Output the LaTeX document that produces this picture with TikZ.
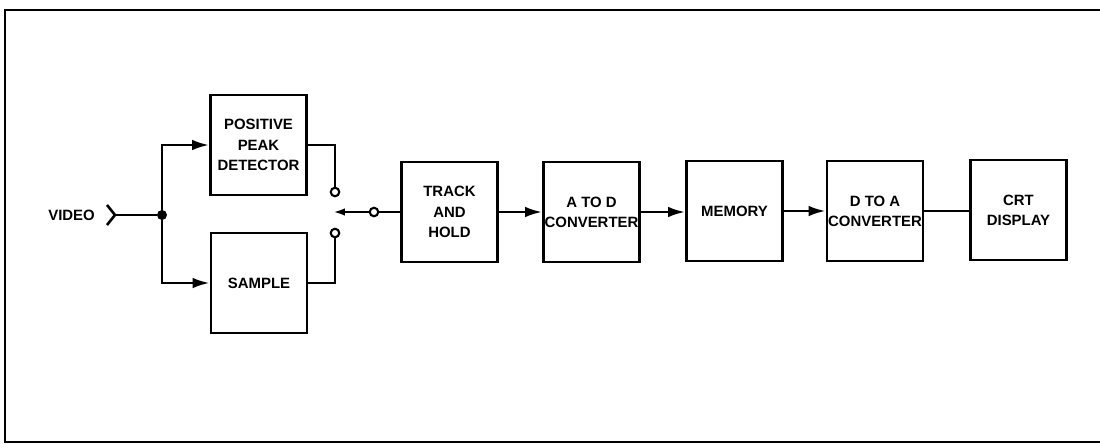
\documentclass[tikz,border=0pt]{standalone}
\usepackage{fontspec}
\setmainfont{Liberation Sans}
\usepackage{tikz}
\usetikzlibrary{arrows.meta,positioning,calc}

\begin{document}
\begin{tikzpicture}[
  x=0.02cm,y=-0.02cm,
  font=\fontsize{8.5}{11.5}\selectfont\bfseries,
  bx/.style={draw,line width=1.5pt,align=center,inner sep=0pt,
             minimum width=1.92cm,minimum height=2cm},
  ln/.style={line width=1.5pt},
  arr/.style={ln,-{Latex[length=3.4mm,width=2.1mm]}},
  sarr/.style={ln,-{Latex[length=2.4mm,width=1.5mm]}},
  ct/.style={circle,draw,line width=1.2pt,fill=white,inner sep=0pt,minimum size=0.17cm},
  dot/.style={circle,fill,inner sep=0pt,minimum size=0.2cm},
  ]
  \useasboundingbox (0,0) rectangle (1100,447);
  % frame
  \draw[ln] (1100,10) -- (5,10) -- (5,442) -- (1100,442);

  \node[anchor=east] (vid) at (101,215) {VIDEO};
  \coordinate (vin) at (115,215);
  \node[dot] (jn) at (162,215) {};

  \node[bx] (ppd) at (258.5,145) {POSITIVE\\PEAK\\DETECTOR};
  \node[bx] (smp) at (259,283)   {SAMPLE};

  \node[ct] (swa) at (335,192) {};
  \node[ct] (swb) at (335,233) {};
  \node[ct] (swc) at (374,212) {};
  \coordinate (swt) at (333,212);

  \node[bx] (th)  at (449.5,212) {TRACK\\AND\\HOLD};
  \node[bx] (ad)  at (591.5,212) {A TO D\\CONVERTER};
  \node[bx] (mem) at (734.5,211) {MEMORY};
  \node[bx] (da)  at (875,211)   {D TO A\\CONVERTER};
  \node[bx] (crt) at (1018.5,210) {CRT\\DISPLAY};

  % input
  \draw[ln] ($(vin)+(-8,-10)$) -- (vin) -- ($(vin)+(-8,10)$);
  \draw[ln] (vin) -- (jn);
  \draw[arr] (jn.center) |- (ppd.west);
  \draw[arr] (jn.center) |- (smp.west);

  % switch
  \draw[ln] (ppd.east) -| (swa.north);
  \draw[ln] (smp.east) -| (swb.south);
  \draw[sarr] (swc.west) -- (swt);
  \draw[ln] (th.west) -- (swc.east);

  % chain
  \draw[arr] (th.east) -- (th.east -| ad.west);
  \draw[arr] (ad.east) -- (ad.east -| mem.west);
  \draw[arr] (mem.east) -- (mem.east -| da.west);
  \draw[ln] (da.east) -- (da.east -| crt.west);
\end{tikzpicture}
\end{document}
